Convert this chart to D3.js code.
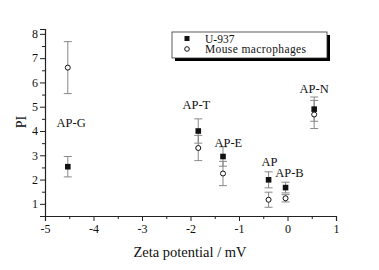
<!DOCTYPE html>
<html><head><meta charset="utf-8">
<script src="https://cdn.jsdelivr.net/npm/d3@7"></script>
<style>body{margin:0;background:#fff}svg{display:block}text{font-family:"Liberation Serif","Times New Roman",serif;fill:#111}</style>
</head><body><svg id="c" width="379" height="270"></svg>
<script>
const samples = ["AP-G","AP-T","AP-E","AP","AP-B","AP-N"];
const zeta = [-4.53,-1.84,-1.33,-0.39,-0.04,0.55];
const u937 = [2.53,4.0,2.95,1.99,1.67,4.9];
const u937Err = [0.42,0.5,0.4,0.33,0.22,0.5];
const mouse = [6.61,3.3,2.25,1.17,1.23,4.68];
const mouseErr = [1.07,0.52,0.5,0.31,0.15,0.58];
const labelPos = [[-4.46,4.16],[-1.88,4.89],[-1.22,3.34],[-0.37,2.56],[0.04,2.09],[0.55,5.58]];
const xTicks = [-5,-4,-3,-2,-1,0,1];
const yTicks = [1,2,3,4,5,6,7,8];
const seriesNames = ["U-937","Mouse macrophages"];

const svg = d3.select("#c");
const x = d3.scaleLinear().domain([-5,1]).range([45,336]);
const y = d3.scaleLinear().domain([0.5,8.2]).range([216,29]);

const xMinor = d3.range(-4.5,1,1);
const yMinor = d3.range(1.5,8,1);

const gx = svg.append("g").attr("transform","translate(0,216)");
gx.call(d3.axisBottom(x).tickValues(xTicks).tickSize(5).tickPadding(3).tickFormat(d=>String(d)));
const gxm = svg.append("g").attr("transform","translate(0,216)");
gxm.call(d3.axisBottom(x).tickValues(xMinor).tickSize(3).tickFormat(""));
gxm.select(".domain").remove();
const gy = svg.append("g").attr("transform","translate(45,0)");
gy.call(d3.axisLeft(y).tickValues(yTicks).tickSize(5).tickPadding(2).tickFormat(d=>String(d)));
const gym = svg.append("g").attr("transform","translate(45,0)");
gym.call(d3.axisLeft(y).tickValues(yMinor).tickSize(3).tickFormat(""));
gym.select(".domain").remove();
svg.selectAll(".domain").attr("stroke","#222").attr("stroke-width",1.2);
svg.selectAll(".tick line").attr("stroke","#222");
svg.selectAll(".tick text").attr("font-size",12).attr("font-family","Liberation Serif, Times New Roman, serif").attr("fill","#111");

// error bars
function errBars(vals, errs, color){
  const g = svg.append("g").attr("stroke",color).attr("stroke-width",1).attr("fill","none");
  vals.forEach((v,i)=>{
    const cx = x(zeta[i]);
    g.append("line").attr("x1",cx).attr("x2",cx).attr("y1",y(v-errs[i])).attr("y2",y(v+errs[i]));
    [v-errs[i], v+errs[i]].forEach(e=>{
      g.append("line").attr("x1",cx-4).attr("x2",cx+4).attr("y1",y(e)).attr("y2",y(e));
    });
  });
}
errBars(mouse, mouseErr, "#888");
errBars(u937, u937Err, "#888");

svg.append("g").selectAll("circle").data(mouse).join("circle")
  .attr("cx",(d,i)=>x(zeta[i])).attr("cy",d=>y(d)).attr("r",2.5)
  .attr("fill","#fff").attr("stroke","#111").attr("stroke-width",1);
svg.append("g").selectAll("rect").data(u937).join("rect")
  .attr("x",(d,i)=>x(zeta[i])-2.8).attr("y",d=>y(d)-2.8).attr("width",5.6).attr("height",5.6)
  .attr("fill","#111");

// labels
svg.append("g").selectAll("text").data(samples).join("text")
  .attr("x",(d,i)=>x(labelPos[i][0])).attr("y",(d,i)=>y(labelPos[i][1]))
  .attr("text-anchor","middle").attr("font-size",12.5).text(d=>d);

// axis titles
svg.append("text").attr("x",190).attr("y",257).attr("text-anchor","middle").attr("font-size",14.5).text("Zeta potential / mV");
svg.append("text").attr("transform","translate(26,122) rotate(-90)").attr("text-anchor","middle").attr("font-size",14).text("PI");

// legend
const lg = svg.append("g");
lg.append("rect").attr("x",175).attr("y",35).attr("width",155).attr("height",26).attr("fill","#000");
lg.append("rect").attr("x",172).attr("y",32).attr("width",155).attr("height",26).attr("fill","#fff").attr("stroke","#333").attr("stroke-width",0.8);
lg.append("rect").attr("x",184.5).attr("y",36).attr("width",5).attr("height",5).attr("fill","#111");
lg.append("circle").attr("cx",187).attr("cy",49).attr("r",2.3).attr("fill","#fff").attr("stroke","#111");
lg.selectAll("text.l").data(seriesNames).join("text").attr("class","l")
  .attr("x",205).attr("y",(d,i)=>42.5+i*10.5).attr("font-size",11.5).attr("textLength",(d,i)=>i===1?101:null).text(d=>d);
</script></body></html>
